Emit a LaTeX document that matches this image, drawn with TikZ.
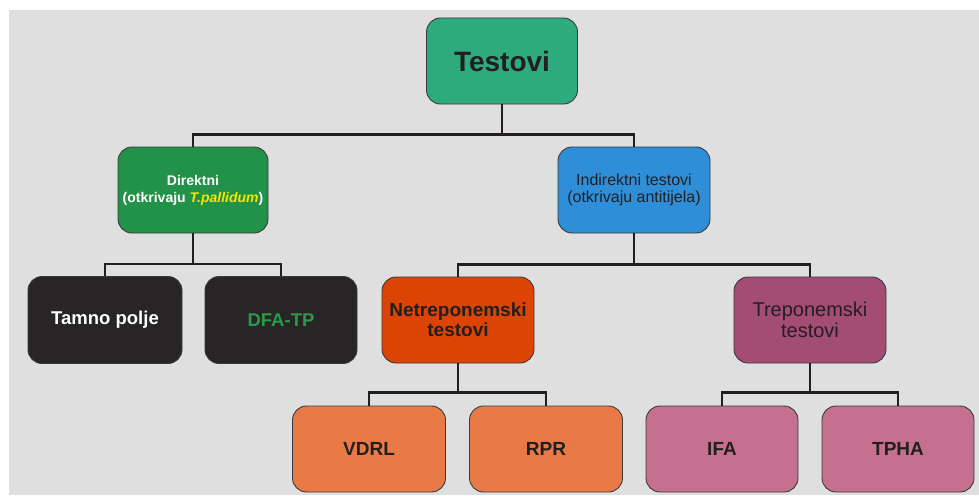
\documentclass[tikz,border=0pt]{standalone}
\usepackage{fontspec}
\setmainfont{Liberation Sans}
\definecolor{bggray}{HTML}{DFDFE0}
\definecolor{cTop}{HTML}{2DAB7F}
\definecolor{cDir}{HTML}{22924A}
\definecolor{cInd}{HTML}{2E8ED8}
\definecolor{cDark}{HTML}{272526}
\definecolor{cNet}{HTML}{DC4405}
\definecolor{cTre}{HTML}{A34C74}
\definecolor{cOra}{HTML}{E87A48}
\definecolor{cPink}{HTML}{C67090}
\definecolor{cYel}{HTML}{F2E600}
\definecolor{cGreenTxt}{HTML}{2A9A48}
\definecolor{cTxt}{HTML}{231F20}
\definecolor{cBorder}{HTML}{3A3A3A}
\tikzset{
  box/.style={draw=cBorder, line width=0.9pt, rounded corners=14pt, inner sep=0pt,
    minimum width=152pt, minimum height=86pt, align=center, text=cTxt},
  conn/.style={draw=cTxt, line width=2.8pt}
}
\begin{document}
\begin{tikzpicture}[x=1pt,y=-1pt]
\useasboundingbox (0,0) rectangle (979,495);
\fill[white] (0,0) rectangle (979,495);
\fill[bggray] (9,10) rectangle (979,495);

\node[box, fill=cTop, minimum width=151pt, font=\fontsize{28}{30}\selectfont\bfseries] (top) at (502,61)
  {Testovi};

\node[box, fill=cDir, minimum width=150pt, text=white, font=\fontsize{14}{17}\selectfont\bfseries] (dir) at (193,190)
  {Direktni\\(otkrivaju \textcolor{cYel}{\itshape T.pallidum})};
\node[box, fill=cInd, font=\fontsize{16}{17}\selectfont] (ind) at (634,190)
  {Indirektni testovi\\(otkrivaju antitijela)};

\node[box, fill=cDark, minimum width=154pt, minimum height=87pt, text=white, font=\fontsize{18.5}{20}\selectfont\bfseries] (tam) at (105,320)
  {Tamno polje};
\node[box, fill=cDark, minimum height=87pt, text=cGreenTxt, font=\fontsize{18.5}{20}\selectfont\bfseries] (dfa) at (281,320)
  {DFA-TP};
\node[box, fill=cNet, font=\fontsize{19}{20}\selectfont\bfseries] (net) at (458,320)
  {Netreponemski\\testovi};
\node[box, fill=cTre, font=\fontsize{20}{21}\selectfont] (tre) at (810,320)
  {Treponemski\\testovi};

\node[box, fill=cOra, minimum width=153pt, font=\fontsize{19}{20}\selectfont\bfseries] (vdrl) at (369,449)
  {VDRL};
\node[box, fill=cOra, minimum width=153pt, font=\fontsize{19}{20}\selectfont\bfseries] (rpr) at (546,449)
  {RPR};
\node[box, fill=cPink, font=\fontsize{19}{20}\selectfont\bfseries] (ifa) at (722,449)
  {IFA};
\node[box, fill=cPink, font=\fontsize{19}{20}\selectfont\bfseries] (tpha) at (898,449)
  {TPHA};

% connectors
\draw[conn] (dir.north) -- ++(0,-12) coordinate (b1) -| (ind.north);
\draw[conn] (top.south) -- (top.south |- b1);

\draw[conn] (tam.north) -- ++(0,-12) coordinate (b2) -| (dfa.north);
\draw[conn] (dir.south) -- (dir.south |- b2);

\draw[conn] (net.north) -- ++(0,-12) coordinate (b3) -| (tre.north);
\draw[conn] (ind.south) -- (ind.south |- b3);

\draw[conn] (vdrl.north) -- ++(0,-13) coordinate (b4) -| (rpr.north);
\draw[conn] (net.south) -- (net.south |- b4);

\draw[conn] (ifa.north) -- ++(0,-13) coordinate (b5) -| (tpha.north);
\draw[conn] (tre.south) -- (tre.south |- b5);
\end{tikzpicture}
\end{document}
